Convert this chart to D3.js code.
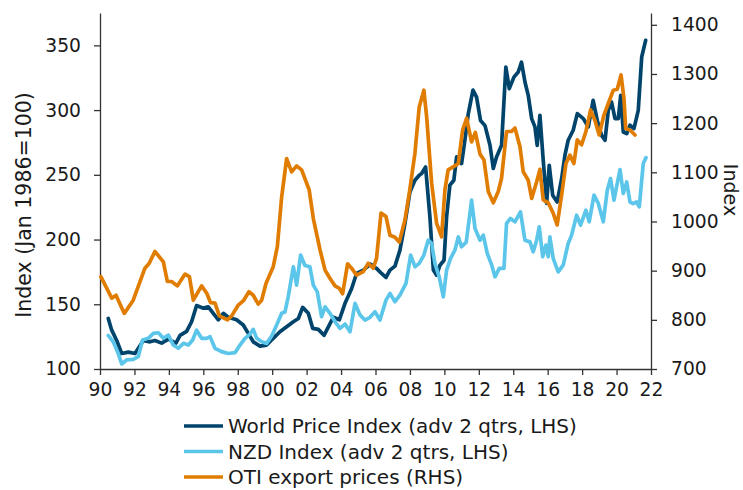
<!DOCTYPE html>
<meta charset="utf-8">
<style>
body { margin: 0; background: #fff; }
text { font-family: "DejaVu Sans", Verdana, sans-serif; fill: #1a1a1a; }
.axis path, .axis line { stroke: #333; stroke-width: 1.3px; }
.axis text { font-size: 18.7px; }
.series { fill: none; stroke-width: 3.7px; stroke-linejoin: round; stroke-linecap: round; }
</style>
<svg width="743" height="490"></svg>
<script src="https://cdn.jsdelivr.net/npm/d3@7"></script>
<script>

// [year, value]
var wpi = [[1990.48,139],[1990.68,130],[1990.97,122],[1991.26,112],[1991.65,113],[1992.03,112],[1992.52,122],[1992.9,121],[1993.19,122],[1993.58,120],[1993.97,123],[1994.41,120],[1994.65,126],[1995.03,129],[1995.32,136.5],[1995.61,149],[1996.0,147],[1996.29,148],[1996.58,143],[1996.87,138],[1997.16,143],[1997.45,140],[1997.93,138],[1998.32,134],[1998.61,127.5],[1998.9,121],[1999.29,117.7],[1999.68,118.5],[2000.06,123.7],[2000.45,128.8],[2000.84,132.6],[2001.23,136.5],[2001.52,139],[2001.77,147.6],[2002.1,143],[2002.35,131.4],[2002.68,130.6],[2003.01,126],[2003.36,135],[2003.55,140],[2003.9,138],[2004.23,150.7],[2004.61,162],[2004.9,173.8],[2005.29,176.4],[2005.72,181],[2006.06,177.7],[2006.35,173.8],[2006.61,170.7],[2006.84,176.4],[2007.13,179.5],[2007.42,191.8],[2007.71,212.4],[2008.0,236.8],[2008.29,245.8],[2008.54,249.7],[2008.68,251],[2008.91,256],[2009.16,217.5],[2009.36,176.4],[2009.55,172.5],[2009.74,180],[2009.98,184],[2010.13,217.5],[2010.32,242],[2010.55,245.8],[2010.71,263.8],[2011.0,258.7],[2011.19,276.7],[2011.39,297.3],[2011.66,315.5],[2011.87,310],[2012.1,292],[2012.36,288],[2012.65,272.8],[2012.84,254.9],[2013.03,263.8],[2013.32,272.8],[2013.57,333.3],[2013.77,316.6],[2014.04,325.5],[2014.29,329.4],[2014.48,337],[2014.68,321.7],[2014.87,311.4],[2015.07,293.4],[2015.26,287],[2015.39,272.8],[2015.55,296],[2015.74,261.3],[2015.94,227.9],[2016.09,257.4],[2016.29,234.3],[2016.55,229],[2016.81,247],[2017.0,265],[2017.19,276.7],[2017.48,284.4],[2017.72,297.3],[2018.07,293.4],[2018.36,287],[2018.64,307.6],[2018.88,292],[2019.13,280.5],[2019.33,276.7],[2019.52,299.8],[2019.71,306.2],[2019.91,293.4],[2020.1,293.4],[2020.24,311.4],[2020.39,283.1],[2020.59,281.8],[2020.78,288.3],[2021.01,285.7],[2021.26,299.8],[2021.46,341],[2021.69,353.9]];

var nzd = [[1990.48,126],[1990.77,121],[1991.06,112],[1991.26,103.9],[1991.55,107],[1991.93,107.5],[1992.22,109.5],[1992.47,122.4],[1992.8,123.7],[1993.1,127.5],[1993.39,128],[1993.68,123.7],[1993.97,126.2],[1994.26,118.5],[1994.55,116],[1994.84,119.8],[1995.13,118.5],[1995.38,122.4],[1995.61,130],[1995.9,123.7],[1996.19,123.7],[1996.39,125],[1996.68,116],[1997.06,113.4],[1997.45,112],[1997.84,112.6],[1998.13,118.5],[1998.42,123.7],[1998.71,127],[1998.9,130.6],[1999.1,123.7],[1999.39,121],[1999.68,119.8],[1999.97,125.5],[2000.26,134],[2000.55,143],[2000.74,144],[2000.93,155.8],[2001.23,179],[2001.42,164.8],[2001.65,188],[2001.9,180],[2002.19,179],[2002.39,164.8],[2002.62,159.6],[2002.87,140.4],[2003.07,148],[2003.36,143],[2003.65,136.5],[2003.94,131.4],[2004.23,134.7],[2004.52,128.8],[2004.81,150.7],[2005.1,141.7],[2005.39,137.8],[2005.68,139.9],[2005.97,144.2],[2006.26,137.8],[2006.61,153.2],[2006.84,158.4],[2007.13,152],[2007.42,157.1],[2007.77,166.1],[2008.04,188],[2008.29,179],[2008.54,181.6],[2008.81,188],[2009.06,199.5],[2009.26,197],[2009.45,181.6],[2009.7,171.2],[2009.94,155.8],[2010.13,176.4],[2010.36,185.4],[2010.61,191.8],[2010.81,202],[2011.0,194.4],[2011.27,198],[2011.58,230.4],[2011.78,208.6],[2012.07,199.5],[2012.26,203.4],[2012.49,189.3],[2012.75,180.2],[2012.94,171.2],[2013.19,177.7],[2013.46,177.7],[2013.61,212.4],[2013.84,216.3],[2014.1,213.7],[2014.42,221.4],[2014.68,199.5],[2014.97,198.2],[2015.16,190.5],[2015.36,199.5],[2015.51,209.8],[2015.71,186.7],[2015.9,195.7],[2016.03,186.7],[2016.13,202],[2016.32,185.4],[2016.61,175],[2016.9,180.2],[2017.19,197],[2017.39,203.4],[2017.68,218.8],[2017.91,211.1],[2018.22,222.7],[2018.41,213.7],[2018.69,234.3],[2018.94,227.9],[2019.23,213.7],[2019.46,238.1],[2019.65,247.1],[2019.85,230.4],[2020.0,240.7],[2020.2,254.1],[2020.39,235.6],[2020.59,244.5],[2020.78,229],[2020.97,227.8],[2021.16,229],[2021.32,225.2],[2021.46,245.8],[2021.55,258.7],[2021.71,263.3]];

var oti = [[1990.05,888],[1990.68,844],[1990.93,850],[1991.41,813],[1991.93,840],[1992.61,905],[1992.86,915],[1993.19,939],[1993.68,918],[1993.91,878],[1994.16,878],[1994.49,869],[1994.94,893],[1995.19,888],[1995.42,840],[1995.9,869],[1996.2,854],[1996.42,835],[1996.68,834],[1996.93,808],[1997.4,800],[1997.65,808],[1998.03,830],[1998.33,839],[1998.65,857],[1998.9,850],[1999.19,832],[1999.39,840],[1999.64,874],[2000.06,908],[2000.3,949],[2000.55,1050],[2000.84,1128],[2001.13,1101],[2001.42,1113],[2001.71,1105],[2002.15,1064],[2002.39,1006],[2002.78,942],[2003.07,901],[2003.36,884],[2003.65,869],[2003.9,864],[2004.09,853],[2004.38,914],[2004.61,905],[2004.9,891],[2005.29,898],[2005.58,915],[2005.87,905],[2006.06,925],[2006.32,1017],[2006.61,1010],[2006.84,972],[2007.13,968],[2007.38,958],[2007.71,1003],[2007.96,1057],[2008.29,1139],[2008.54,1233],[2008.81,1267],[2008.97,1213],[2009.26,1078],[2009.55,996],[2009.84,969],[2010.03,1064],[2010.22,1105],[2010.51,1111],[2010.81,1118],[2011.06,1186],[2011.29,1210],[2011.58,1162],[2011.8,1181],[2012.07,1137],[2012.3,1125],[2012.55,1061],[2012.84,1038],[2013.13,1061],[2013.32,1088],[2013.61,1183],[2013.9,1183],[2014.1,1190],[2014.39,1152],[2014.58,1101],[2014.87,1084],[2015.07,1047],[2015.36,1081],[2015.55,1106],[2015.74,1044],[2016.03,1038],[2016.32,1017],[2016.55,993],[2016.81,1054],[2017.06,1118],[2017.29,1135],[2017.52,1118],[2017.72,1166],[2017.97,1156],[2018.22,1183],[2018.49,1227],[2018.74,1206],[2018.99,1176],[2019.27,1217],[2019.52,1240],[2019.81,1267],[2020.04,1269],[2020.26,1298],[2020.43,1250],[2020.53,1189],[2020.78,1186],[2021.07,1176]];

var xTicks = d3.range(1990, 2023, 2);
var leftTicks = [100, 150, 200, 250, 300, 350];
var rightTicks = [700, 800, 900, 1000, 1100, 1200, 1300, 1400];
var names = ["World Price Index (adv 2 qtrs, LHS)", "NZD Index (adv 2 qtrs, LHS)", "OTI export prices (RHS)"];
var colors = ["#00446b", "#5bc6ea", "#e07c00"];

var svg = d3.select("svg");
var plotL = 100, plotR = 651, plotT = 13, plotB = 369;

var x = d3.scaleLinear().domain([1990, 2022]).range([plotL, plotR]);
var yL = d3.scaleLinear().domain([100, 375]).range([plotB, plotT]);
var yR = d3.scaleLinear().domain([700, 1424]).range([plotB, plotT]);

svg.append("g").attr("class", "axis").attr("transform", "translate(0," + plotB + ")")
    .call(d3.axisBottom(x).tickValues(xTicks).tickSize(6).tickSizeOuter(0).tickPadding(8)
      .tickFormat(function(d) { return String(d % 100).padStart(2, "0"); }));

svg.append("g").attr("class", "axis").attr("transform", "translate(" + plotL + ",0)")
    .call(d3.axisLeft(yL).tickValues(leftTicks).tickSize(6).tickSizeOuter(0).tickPadding(13));

svg.append("g").attr("class", "axis").attr("transform", "translate(" + plotR + ",0)")
    .call(d3.axisRight(yR).tickValues(rightTicks).tickFormat(d3.format("d"))
      .tickSize(6).tickSizeOuter(0).tickPadding(14));

var lineL = d3.line().x(function(d) { return x(d[0]); }).y(function(d) { return yL(d[1]); });
var lineR = d3.line().x(function(d) { return x(d[0]); }).y(function(d) { return yR(d[1]); });

svg.append("path").datum(wpi).attr("class", "series").attr("stroke", colors[0]).attr("d", lineL);
svg.append("path").datum(nzd).attr("class", "series").attr("stroke", colors[1]).attr("d", lineL);
svg.append("path").datum(oti).attr("class", "series").attr("stroke", colors[2]).attr("d", lineR);

svg.append("text").attr("transform", "translate(31,205) rotate(-90)")
    .attr("text-anchor", "middle").style("font-size", "20.5px").text("Index (Jan 1986=100)");
svg.append("text").attr("transform", "translate(724,190) rotate(90)")
    .attr("text-anchor", "middle").style("font-size", "19px").text("Index");

var legend = svg.append("g").selectAll("g").data(names).enter().append("g")
    .attr("transform", function(d, i) { return "translate(184," + (426 + i * 25.5) + ")"; });
legend.append("line").attr("x1", 0).attr("x2", 39).attr("stroke-width", 3.7)
    .attr("stroke", function(d, i) { return colors[i]; });
legend.append("text").attr("x", 44).attr("dy", "0.35em").style("font-size", "20px")
    .text(function(d) { return d; });

</script>
